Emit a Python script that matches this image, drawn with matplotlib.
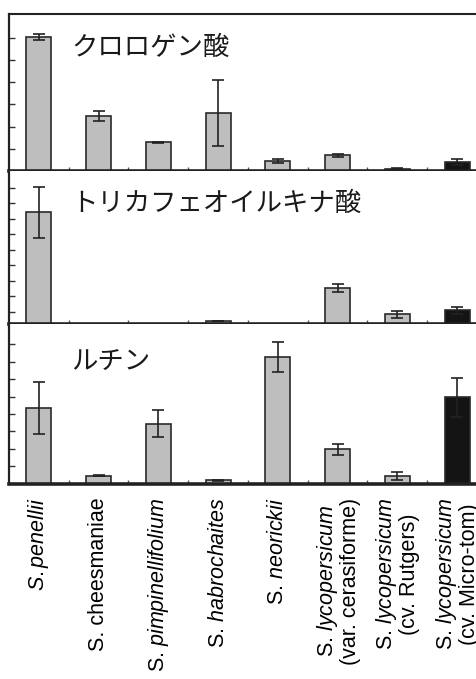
import matplotlib
matplotlib.use('Agg')
import matplotlib.pyplot as plt
import numpy as np

plt.rcParams['font.family'] = ['Liberation Sans', 'DejaVu Sans']
plt.rcParams['mathtext.fontset'] = 'custom'
plt.rcParams['mathtext.rm'] = 'Liberation Sans'
plt.rcParams['mathtext.it'] = 'Liberation Sans:italic'

# Species (x axis), bottom panel labels
species = [r'$\mathit{S.penellii}$',
           'S. cheesmaniae',
           r'S. $\mathit{pimpinellifolium}$',
           r'S. $\mathit{habrochaites}$',
           r'S. $\mathit{neorickii}$',
           'S. $\\mathit{lycopersicum}$\n(var. cerasiforme)',
           'S. $\\mathit{lycopersicum}$\n(cv. Rutgers)',
           'S. $\\mathit{lycopersicum}$\n(cv. Micro-tom)']

# Values (arbitrary units = one y tick step)
chlorogenic = [6.03, 2.47, 1.29, 2.62, 0.45, 0.71, 0.10, 0.41]
chlorogenic_err = [0.13, 0.22, 0.03, 1.50, 0.10, 0.07, 0.03, 0.14]
tricaffeoyl = [7.15, 0.0, 0.0, 0.17, 0.0, 2.31, 0.58, 0.86]
tricaffeoyl_err = [1.65, 0.0, 0.0, 0.02, 0.0, 0.26, 0.25, 0.22]
rutin = [4.34, 0.44, 3.43, 0.19, 7.27, 1.96, 0.42, 4.95]
rutin_err = [1.47, 0.03, 0.78, 0.03, 0.85, 0.34, 0.24, 1.14]

titles = ['クロロゲン酸', 'トリカフェオイルキナ酸', 'ルチン']

W, H = 477, 679
fig = plt.figure(figsize=(W / 100, H / 100), dpi=100)

# panel edges in pixels (top, bottom), axes run past the right edge like the scan
panels = [(14, 171), (171, 323.5), (323.5, 483.5)]
ylims = [7.07, 9.82, 9.2]
tick_offsets = [0.0, 0.75, 0.0]
data = [(chlorogenic, chlorogenic_err), (tricaffeoyl, tricaffeoyl_err), (rutin, rutin_err)]
title_y = [47, 203, 362]

x = np.arange(len(species))
colors = ['#bebebe'] * 7 + ['#141414']

for i, ((top, bot), (vals, errs)) in enumerate(zip(panels, data)):
    ax = fig.add_axes([9 / W, 1 - bot / H, 478 / W, (bot - top) / H])
    vals = np.array(vals)
    errs = np.array(errs)
    ax.bar(x, vals, width=0.42, color=colors, edgecolor='#2a2a2a', linewidth=1.2, zorder=2)
    show = errs > 0
    ax.errorbar(x[show], vals[show], yerr=errs[show], fmt='none', ecolor='#222222',
                elinewidth=1.2, capsize=4.5, capthick=1.2, zorder=3)
    ax.set_xlim(-0.5, 7.5)
    ax.set_ylim(0, ylims[i])
    ax.set_yticks(np.arange(tick_offsets[i] + (1 if tick_offsets[i] == 0 else 0), ylims[i] - 0.2, 1))
    ax.set_yticklabels([])
    ax.tick_params(axis='y', direction='in', length=4, width=1.0, color='#333333')
    ax.set_xticks(x + 0.5, minor=True)
    ax.tick_params(axis='x', which='minor', direction='in', length=3, width=1.0, color='#555555')
    ax.set_xticks(x)
    ax.tick_params(axis='x', which='major', length=0)
    for side in ['left', 'bottom', 'top', 'right']:
        ax.spines[side].set_color('#222222')
    ax.spines['left'].set_linewidth(1.6)
    ax.spines['bottom'].set_linewidth(2.6)
    ax.spines['right'].set_visible(False)
    if i == 0:
        ax.spines['top'].set_linewidth(1.5)
    else:
        ax.spines['top'].set_visible(False)
    if i == 2:
        ax.set_xticklabels(species, rotation=90, fontsize=15.5, multialignment='center',
                           linespacing=1.0)
        ax.tick_params(axis='x', which='major', pad=10)
    else:
        ax.set_xticklabels([])
    fig.text(71 / W, 1 - title_y[i] / H, titles[i], fontsize=19, va='center', ha='left',
             family=['Noto Sans CJK JP', 'DejaVu Sans'], color='#1a1a1a')

fig.savefig('out.png', dpi=100)
